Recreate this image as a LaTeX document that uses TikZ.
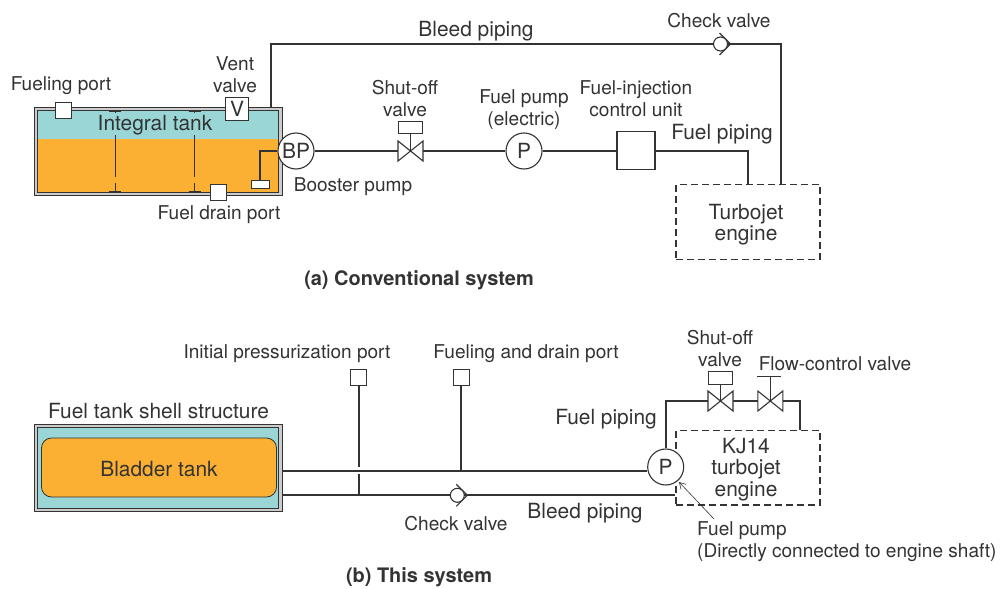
\documentclass[tikz,border=0pt]{standalone}
\usepackage{fontspec}
\setmainfont{TeX Gyre Heros}
\usetikzlibrary{positioning,arrows.meta}
\definecolor{water}{HTML}{9AD6D6}
\definecolor{fuel}{HTML}{FBB034}
\definecolor{ink}{HTML}{333333}
\tikzset{
	txt/.style={text=ink, inner sep=0pt, align=center, yshift=-1pt, font=\fontsize{19.05}{22}\selectfont},
	bigtxt/.style={text=ink, inner sep=0pt, align=center, yshift=-1pt, font=\fontsize{20.9}{21.5}\selectfont},
	captxt/.style={text=ink, inner sep=0pt, yshift=-1pt, font=\fontsize{19.95}{22}\selectfont\bfseries},
	pipe/.style={draw=ink, line width=2pt},
	thinline/.style={draw=ink, line width=0.8pt},
	port/.style={draw=ink, fill=white, line width=1pt, inner sep=0pt, minimum size=16pt},
	pump/.style={draw=ink, fill=white, circle, line width=1.1pt, inner sep=0pt, minimum size=36pt, font=\fontsize{20.9}{22}\selectfont, text=ink},
	engine/.style={draw=ink, dashed, dash pattern=on 7pt off 4pt, line width=1.1pt, inner sep=0pt},
	shell/.style={draw=ink, fill=black!20, line width=0.8pt},
	actbox/.style={draw=ink, fill=white, line width=1.1pt, inner sep=0pt, minimum width=23.5pt, minimum height=12.5pt},
	valvebody/.pic={
		\draw[ink, fill=white, line width=1.1pt] (-12.5,-10) -- (12.5,10) -- (12.5,-10) -- (-12.5,10) -- cycle;
	},
	checkbody/.pic={
		\draw[ink, line width=1.1pt] (-1,-11) -- (10,0) -- (-1,11);
		\draw[ink, fill=white, line width=1.1pt] (0,0) circle (7);
	},
}
\begin{document}
\begin{tikzpicture}[x=1pt,y=-1pt]
	\useasboundingbox (0,0) rectangle (1002,589);

	% (a) conventional system
	\draw[shell] (34,107) rectangle (282,195);
	\fill[water] (37,110.5) rectangle (278.5,139);
	\fill[fuel] (37,139) rectangle (278.5,192);
	\draw[ink, line width=0.8pt] (37,110.5) rectangle (278.5,192);
	% baffles
	\foreach \xb in {115,194.5}{
		\draw[thinline] (\xb-6,111.5) -- (\xb+6,111.5);
		\draw[thinline] (\xb,110.5) -- (\xb,112.5);
		\draw[thinline] (\xb,135) -- (\xb,177);
		\draw[thinline] (\xb,183) -- (\xb,191);
		\draw[thinline] (\xb-6,191) -- (\xb+6,191);
	}
	\node[bigtxt] (tankA) at (155,124) {Integral tank};
	\node[port] (fuelport) at (63,110) {};
	\node[port] (drainport) at (218,192) {};
	\node[port, minimum size=23pt, font=\fontsize{20.9}{22}\selectfont, text=ink] (vent) at (237,109) {V};
	\node[draw=ink, fill=white, line width=1pt, inner sep=0pt, minimum width=18pt, minimum height=8pt] (pickup) at (260.3,184) {};
	\node[pump] (BP) at (296,151) {BP};
	\node[pump] (PA) at (524,151) {P};
	\node[draw=ink, fill=white, line width=1.1pt, inner sep=0pt, minimum size=38pt] (inject) at (636,150.5) {};
	\node[engine, minimum width=144pt, minimum height=74.5pt] (jetA) at (748,222) {};
	\node[bigtxt] (jetAtxt) at (746,223.5) {Turbojet\\engine};
	\coordinate (SVA) at (410.5,151);
	\coordinate (SVAbox) at (410.5,127.5);
	\coordinate (CVA) at (720.5,44);
	\coordinate (bleedA) at (271,44);
	\coordinate (bleedB) at (780.5,44);
	\coordinate (tankAtop) at (271,107);
	\coordinate (feedA) at (748,151);
	\draw[pipe] (tankAtop) -- (bleedA) -- (bleedB) -- (bleedB |- jetA.north);
	\draw[pipe] (BP) -- (PA);
	\draw[pipe] (PA) -- (inject.west |- PA);
	\draw[pipe] (inject.east |- feedA) -- (feedA) -- (feedA |- jetA.north);
	\draw[pipe] (BP.west) -| (pickup.north);
	\node[actbox] (SVAact) at (SVAbox) {};
	\draw[ink, line width=1.1pt] (SVAact) -- (SVA);
	\pic at (SVA) {valvebody};
	\pic at (CVA) {checkbody};
	\node[txt] (t1) at (61,85) {Fueling port};
	\node[txt] (t2) at (235,74) {Vent\\valve};
	\node[txt] (t3) at (353,186) {Booster pump};
	\node[txt] (t4) at (219,214) {Fuel drain port};
	\node[txt] (t5) at (405,98) {Shut-off\\valve};
	\node[txt] (t6) at (524,109) {Fuel pump\\(electric)};
	\node[txt] (t7) at (636,98) {Fuel-injection\\control unit};
	\node[bigtxt] (t8) at (722,133) {Fuel piping};
	\node[bigtxt] (t9) at (476,30) {Bleed piping};
	\node[txt] (t10) at (719,20) {Check valve};
	\node[captxt] (capA) at (419,279) {(a) Conventional system};

	% (b) this system
	\draw[shell] (34,424) rectangle (282,511.5);
	\draw[ink, fill=water, line width=0.8pt] (37,427) rectangle (278.5,508);
	\draw[ink, fill=fuel, line width=0.8pt, rounded corners=10pt] (41.5,438) rectangle (276.5,497);
	\node[bigtxt] (tankB) at (159,468) {Bladder tank};
	\node[bigtxt] (t11) at (158.5,410) {Fuel tank shell structure};
	\node[port] (initport) at (358.7,377.7) {};
	\node[port] (drainB) at (461.3,377.7) {};
	\node[engine, minimum width=144pt, minimum height=74.5pt] (jetB) at (748,467.7) {};
	\node[bigtxt] (jetBtxt) at (746,468.5) {KJ14\\turbojet\\engine};
	\node[pump] (PB) at (665.7,467) {P};
	\coordinate (tankBa) at (282,470.5);
	\coordinate (tankBb) at (282,495.3);
	\coordinate (SVB) at (720.5,401);
	\coordinate (FVB) at (770.3,401);
	\coordinate (SVBbox) at (720.5,378);
	\coordinate (FVBbar) at (769.3,376.7);
	\coordinate (CVB) at (457.3,495.3);
	\coordinate (cornerA) at (665.5,401);
	\coordinate (cornerB) at (800,401);
	\coordinate (stemgapA) at (358.7,466.7);
	\coordinate (stemgapB) at (358.7,473.5);
	\draw[pipe] (tankBa) -- (PB.west |- tankBa);
	\draw[pipe] (tankBb) -- (jetB.west |- tankBb);
	\draw[pipe] (initport.south) -- (stemgapA);
	\draw[pipe] (stemgapB) -- (initport.south |- tankBb);
	\draw[pipe] (drainB.south) -- (drainB.south |- tankBa);
	\draw[pipe] (PB.north -| cornerA) -- (cornerA) -- (cornerB) -- (cornerB |- jetB.north);
	\node[actbox] (SVBact) at (SVBbox) {};
	\draw[ink, line width=1.1pt] (SVBact) -- (SVB);
	\draw[ink, line width=1.1pt] (FVBbar) ++(-12,0) -- ++(24,0);
	\pic at (SVB) {valvebody};
	\pic at (FVB) {valvebody};
	\draw[ink, line width=1.1pt] (FVBbar -| FVB) -- (FVB);
	\pic at (CVB) {checkbody};
	\node[txt] (t12) at (287,353) {Initial pressurization port};
	\node[txt] (t13) at (526,353) {Fueling and drain port};
	\node[txt] (t14) at (456,523) {Check valve};
	\node[bigtxt] (t15) at (585,512) {Bleed piping};
	\node[bigtxt] (t16) at (606,418) {Fuel piping};
	\node[txt] (t17) at (720,348) {Shut-off\\valve};
	\node[txt] (t18) at (835,363) {Flow-control valve};
	\node[txt, anchor=west, align=left] (t19) at (697,541) {Fuel pump\\(Directly connected to engine shaft)};
	\coordinate (arrowtail) at (714,519);
	\coordinate (arrowhead) at (679,482);
	\draw[ink, line width=0.6pt, -{Straight Barb[length=6pt,width=7pt]}] (arrowtail) -- (arrowhead);
	\node[captxt] (capB) at (419,576) {(b) This system};
\end{tikzpicture}
\end{document}
